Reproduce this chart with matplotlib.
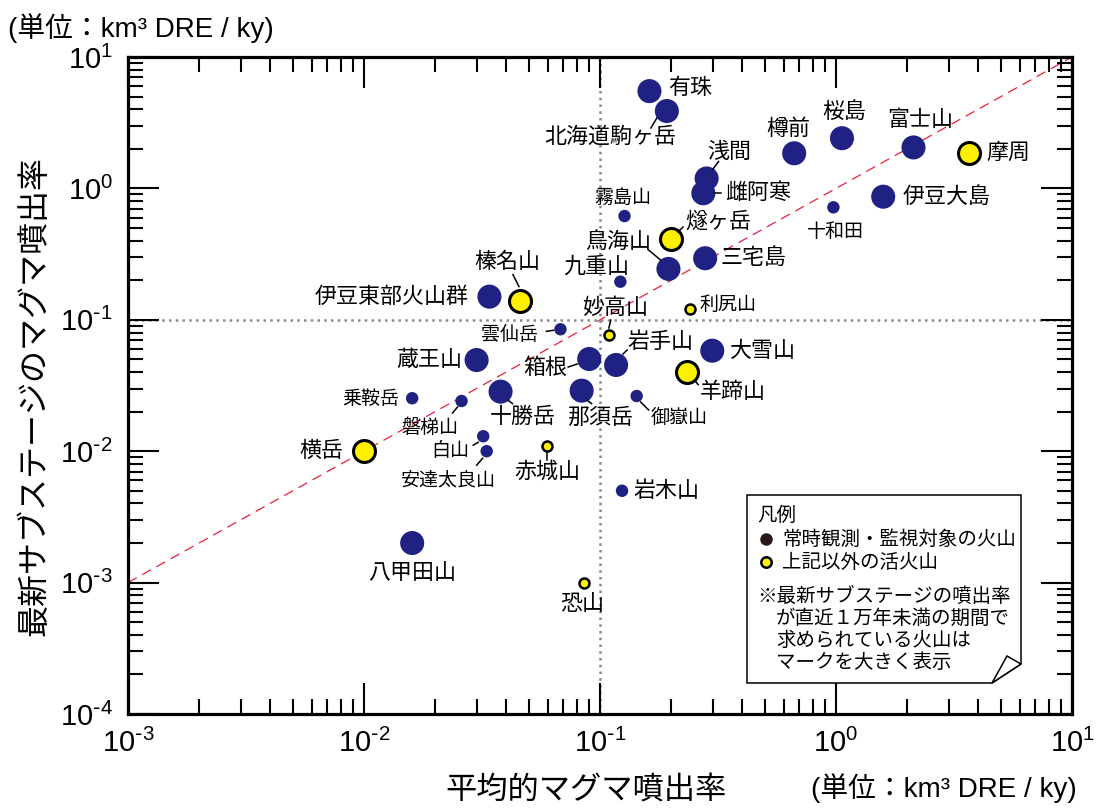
import matplotlib
matplotlib.use('Agg')
import matplotlib.pyplot as plt
import matplotlib.transforms as mtransforms
from matplotlib.patches import Polygon
from matplotlib.ticker import LogLocator, NullFormatter, FixedLocator
import numpy as np

plt.rcParams['font.family'] = ['Liberation Sans', 'Noto Sans CJK JP', 'DejaVu Sans']
plt.rcParams['mathtext.default'] = 'regular'

JP = 'Noto Sans CJK JP'

# volcano names, mean eruption rate (x) and latest-substage rate (y), km3 DRE / ky
names = ['有珠', '北海道駒ヶ岳', '樽前', '桜島', '富士山', '摩周', '浅間', '雌阿寒',
         '伊豆大島', '霧島山', '十和田', '燧ヶ岳', '三宅島', '鳥海山', '九重山',
         '伊豆東部火山群', '榛名山', '利尻山', '雲仙岳', '妙高山', '岩手山', '箱根',
         '大雪山', '蔵王山', '羊蹄山', '乗鞍岳', '磐梯山', '十勝岳', '那須岳', '御嶽山',
         '白山', '安達太良山', '赤城山', '横岳', '岩木山', '八甲田山', '恐山']
mean_rate = [0.162, 0.192, 0.665, 1.06, 2.13, 3.67, 0.283, 0.274,
             1.585, 0.127, 0.975, 0.200, 0.279, 0.195, 0.122,
             0.034, 0.0458, 0.240, 0.068, 0.109, 0.117, 0.090,
             0.299, 0.030, 0.234, 0.016, 0.0259, 0.0379, 0.0836, 0.143,
             0.032, 0.0331, 0.0598, 0.010, 0.124, 0.016, 0.0856]
recent_rate = [5.5, 3.88, 1.85, 2.41, 2.05, 1.85, 1.19, 0.918,
               0.865, 0.616, 0.718, 0.412, 0.294, 0.244, 0.195,
               0.150, 0.140, 0.121, 0.0847, 0.0766, 0.0453, 0.0503,
               0.0582, 0.0494, 0.0403, 0.0253, 0.0241, 0.0284, 0.0289, 0.0263,
               0.0130, 0.0100, 0.0110, 0.010, 0.0050, 0.0020, 0.0010]
# 1 = 常時観測・監視対象, 0 = その他の活火山
monitored = [1, 1, 1, 1, 1, 0, 1, 1,
             1, 1, 1, 0, 1, 1, 1,
             1, 0, 0, 1, 0, 1, 1,
             1, 1, 0, 1, 1, 1, 1, 1,
             1, 1, 0, 0, 1, 1, 0]
# 1 = latest substage shorter than 10 ky (large marker)
recent_short = [1, 1, 1, 1, 1, 1, 1, 1,
                1, 0, 0, 1, 1, 1, 0,
                1, 1, 0, 0, 0, 1, 1,
                1, 1, 1, 0, 0, 1, 1, 0,
                0, 0, 0, 1, 0, 1, 0]

x_ticks = [1e-3, 1e-2, 1e-1, 1e0, 1e1]
y_ticks = [1e-4, 1e-3, 1e-2, 1e-1, 1e0, 1e1]

# label placement: text offset in pixels (right, down), alignment, small font, leader segment
label_layout = {
    '有珠': (19, -3, 'left', False, None),
    '北海道駒ヶ岳': (-57, 26, 'center', False, (-10, 7, -16, 17)),
    '樽前': (-6, -24, 'center', False, None),
    '桜島': (2, -26, 'center', False, None),
    '富士山': (7, -27, 'center', False, None),
    '摩周': (17, 0, 'left', False, None),
    '浅間': (23, -27, 'center', False, (6, -9, 12, -17)),
    '雌阿寒': (22, 0, 'left', False, (12, 0, 18, 0)),
    '伊豆大島': (19, 0, 'left', False, None),
    '霧島山': (-2, -19, 'center', True, None),
    '十和田': (2, 24, 'center', True, None),
    '燧ヶ岳': (47, -17, 'center', False, (7, -7, 12, -12)),
    '三宅島': (15, 0, 'left', False, None),
    '鳥海山': (-50, -27, 'center', False, (-20, -19, -8, -9)),
    '九重山': (-24, -15, 'center', False, None),
    '伊豆東部火山群': (-21, 0, 'right', False, None),
    '榛名山': (-13, -39, 'center', False, (-7, -26, -1, -14)),
    '利尻山': (10, -4, 'left', True, None),
    '雲仙岳': (-22, 5, 'right', True, (-14, 2, -7, 1)),
    '妙高山': (6, -27, 'center', False, (2, -15, 0, -7)),
    '岩手山': (44, -23, 'center', False, (7, -11, 11, -15)),
    '箱根': (-44, 9, 'center', False, (-21, 8, -12, 5)),
    '大雪山': (17, 0, 'left', False, None),
    '蔵王山': (-14, 0, 'right', False, None),
    '羊蹄山': (46, 20, 'center', False, (8, 9, 11, 13)),
    '乗鞍岳': (-13, 0, 'right', True, None),
    '磐梯山': (-32, 26, 'center', True, (-9, 12, -4, 6)),
    '十勝岳': (22, 25, 'center', False, (8, 9, 12, 12)),
    '那須岳': (18, 27, 'center', False, (6, 10, 10, 13)),
    '御嶽山': (42, 21, 'center', True, (4, 6, 12, 14)),
    '白山': (-33, 14, 'center', True, (-10, 9, -5, 6)),
    '安達太良山': (-38, 29, 'center', True, (-10, 14, -4, 7)),
    '赤城山': (0, 26, 'center', False, (0, 6, 0, 14)),
    '横岳': (-21, 0, 'right', False, None),
    '岩木山': (11, 0, 'left', False, None),
    '八甲田山': (0, 30, 'center', False, None),
    '恐山': (-2, 21, 'center', False, None),
}

BLUE = '#1f2183'
YELLOW = '#fff000'

W, H = 1098, 808
fig = plt.figure(figsize=(W / 100, H / 100), dpi=100)
ax = fig.add_axes([128 / W, 1 - 714 / H, 944 / W, 657 / H])
ax.set_xscale('log')
ax.set_yscale('log')
ax.set_xlim(x_ticks[0], x_ticks[-1])
ax.set_ylim(y_ticks[0], y_ticks[-1])

# reference lines
ax.plot(x_ticks, x_ticks, color='#e8203a', lw=0.9, dashes=(8, 5), zorder=1)
ax.axvline(0.1, color='#8a8a8a', lw=1.8, dashes=(1, 1.7), zorder=1)
ax.axhline(0.1, color='#8a8a8a', lw=1.8, dashes=(1, 1.7), zorder=1)

for name, xv, yv, mon, big in zip(names, mean_rate, recent_rate, monitored, recent_short):
    if mon:
        ax.scatter(xv, yv, s=300 if big else 80, color=BLUE, edgecolors='none', zorder=3)
    else:
        ax.scatter(xv, yv, s=250 if big else 52, color=YELLOW, edgecolors='black',
                   linewidths=2.2 if big else 1.8, zorder=3)
    dx, dy, ha, small, leader = label_layout[name]
    ax.annotate(name, (xv, yv), xytext=(dx, -dy), textcoords='offset pixels',
                ha=ha, va='center', fontsize=13.7 if small else 15.8, family=JP,
                zorder=4)
    if leader is not None:
        tr = mtransforms.Affine2D().scale(1, -1) + \
            mtransforms.ScaledTranslation(xv, yv, ax.transData)
        ax.plot([leader[0], leader[2]], [leader[1], leader[3]], color='black',
                lw=1.1, transform=tr, zorder=4, clip_on=False)

# axes frame and ticks
for sp in ax.spines.values():
    sp.set_linewidth(2.3)
ax.tick_params(which='both', direction='in', top=True, right=True, width=1.5)
ax.tick_params(which='major', length=22, labelsize=21, pad=11)
ax.tick_params(which='minor', length=11)
ax.xaxis.set_major_locator(FixedLocator(x_ticks))
ax.yaxis.set_major_locator(FixedLocator(y_ticks))
ax.xaxis.set_minor_locator(LogLocator(base=10, subs=np.arange(2, 10), numticks=20))
ax.yaxis.set_minor_locator(LogLocator(base=10, subs=np.arange(2, 10), numticks=20))
ax.xaxis.set_minor_formatter(NullFormatter())
ax.yaxis.set_minor_formatter(NullFormatter())
ax.set_xticklabels(['$10^{\\text{-}%d}$' % abs(int(np.log10(v))) if v < 1
                    else '$10^{%d}$' % int(np.log10(v)) for v in x_ticks])
ax.set_yticklabels(['$10^{\\text{-}%d}$' % abs(int(np.log10(v))) if v < 1
                    else '$10^{%d}$' % int(np.log10(v)) for v in y_ticks])


def fpos(px, py):
    return px / W, 1 - py / H


# axis titles and units
fig.text(*fpos(586, 790), '平均的マグマ噴出率', ha='center', va='center',
         fontsize=22.5, family=JP)
fig.text(*fpos(34, 396), '最新サブステージのマグマ噴出率', ha='center', va='center',
         fontsize=23, family=JP, rotation=90)
unit = '(単位：km³ DRE / ky)'
fig.text(*fpos(8, 28), unit, ha='left', va='center', fontsize=20)
fig.text(*fpos(1077, 788), unit, ha='right', va='center', fontsize=20)

# legend box with a turned-down corner
box = [(747, 495), (1021, 495), (1021, 664), (992, 683), (747, 683)]
fig.patches.append(Polygon([fpos(*p) for p in box], closed=True, facecolor='white',
                           edgecolor='black', lw=1.1, transform=fig.transFigure,
                           figure=fig, zorder=5))
fold = [(992, 683), (1007, 656), (1021, 664)]
fig.patches.append(Polygon([fpos(*p) for p in fold], closed=True, facecolor='white',
                           edgecolor='black', lw=1.1, transform=fig.transFigure,
                           figure=fig, zorder=6))

leg_fs = 14
fig.text(*fpos(757, 515), '凡例', ha='left', va='center', fontsize=leg_fs, family=JP, zorder=7)
fig.lines.append(plt.Line2D([fpos(766, 539)[0]], [fpos(766, 539)[1]], marker='o',
                            markersize=9, color='#2a1818', markeredgecolor='none',
                            transform=fig.transFigure, figure=fig, zorder=7))
fig.lines.append(plt.Line2D([fpos(766, 562)[0]], [fpos(766, 562)[1]], marker='o',
                            markersize=7.5, color=YELLOW, markeredgecolor='black',
                            markeredgewidth=1.8, transform=fig.transFigure,
                            figure=fig, zorder=7))
fig.text(*fpos(782, 539), '常時観測・監視対象の火山', ha='left', va='center',
         fontsize=leg_fs, family=JP, zorder=7)
fig.text(*fpos(782, 562), '上記以外の活火山', ha='left', va='center',
         fontsize=leg_fs, family=JP, zorder=7)
note = ['※最新サブステージの噴出率', 'が直近１万年未満の期間で',
        '求められている火山は', 'マークを大きく表示']
for i, line in enumerate(note):
    fig.text(*fpos(757 if i == 0 else 776, 596 + 22 * i), line, ha='left', va='center',
             fontsize=leg_fs, family=JP, zorder=7)

fig.savefig('out.png', dpi=100)
